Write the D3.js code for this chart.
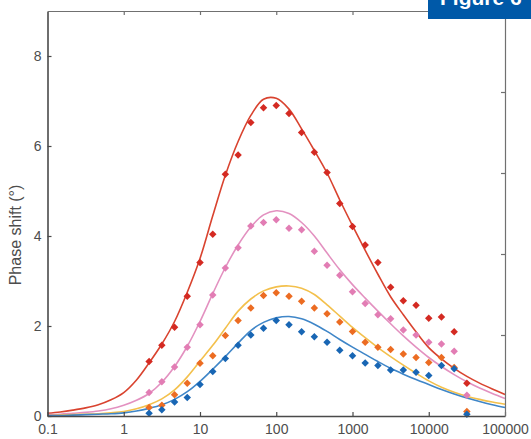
<!DOCTYPE html>
<html>
<head>
<meta charset="utf-8">
<script src="https://cdn.jsdelivr.net/npm/d3@7"></script>
<style>
    body { margin: 0; background: #fff; }
    svg { display: block; font-family: "Liberation Sans", Arial, sans-serif; }
</style>
</head>
<body>
<svg id="chart" width="531" height="439"></svg>
<script>
//Measured frequencies (Hz) for the dots
const freqPoints = [2.15, 3.16, 4.64, 6.81, 10, 14.7, 21.5, 31.6, 46.4, 68.1, 100, 147, 215, 316, 464, 681,
    1000, 1468, 2154, 3162, 4642, 6813, 10000, 14678, 21544, 31623];
//Measured phase shift values (degrees)
const redPoints = [1.21, 1.57, 1.97, 2.66, 3.41, 4.04, 5.37, 5.80, 6.52, 6.85, 6.90, 6.72, 6.30, 5.86, 5.41, 4.72,
    4.21, 3.80, 3.41, 2.86, 2.56, 2.46, 2.17, 2.20, 1.87, 0.73];
const pinkPoints = [0.52, 0.76, 1.09, 1.53, 2.03, 2.69, 3.29, 3.74, 4.22, 4.30, 4.36, 4.17, 4.14, 3.66, 3.35, 3.13,
    2.76, 2.50, 2.25, 2.16, 1.91, 1.80, 1.64, 1.60, 1.44, 0.46];
const orangePoints = [0.19, 0.24, 0.47, 0.73, 1.17, 1.34, 1.79, 2.12, 2.40, 2.68, 2.74, 2.66, 2.55, 2.40, 2.27, 2.09,
    1.88, 1.64, 1.53, 1.48, 1.38, 1.30, 1.19, 1.30, 1.08, 0.10];
const bluePoints = [0.06, 0.14, 0.31, 0.41, 0.70, 0.99, 1.28, 1.57, 1.80, 1.95, 2.12, 2.03, 1.87, 1.76, 1.64, 1.46,
    1.34, 1.18, 1.12, 1.02, 1.02, 0.97, 0.90, 1.12, 1.05, 0.04];

//Frequencies (Hz) where the fitted curves were read
const freqFit = [0.1, 0.147, 0.215, 0.316, 0.464, 0.681, 1, 1.47, 2.15, 3.16, 4.64, 6.81, 10, 14.7, 21.5, 31.6,
    46.4, 68.1, 100, 147, 215, 316, 464, 681, 1000, 1468, 2154, 3162, 4642, 6813, 10000, 14678, 21544, 31623,
    46416, 68129, 100000];
//Fitted curves (degrees)
const redFit = [0.06, 0.09, 0.13, 0.18, 0.25, 0.36, 0.52, 0.8, 1.18, 1.6, 2.1, 2.75, 3.5, 4.45, 5.35, 6.1,
    6.68, 7.04, 7.06, 6.82, 6.38, 5.9, 5.4, 4.8, 4.23, 3.68, 3.15, 2.65, 2.25, 1.87, 1.52, 1.27, 1.06, 0.88,
    0.73, 0.6, 0.48];
const pinkFit = [0.03, 0.04, 0.06, 0.08, 0.11, 0.16, 0.24, 0.35, 0.5, 0.75, 1.1, 1.55, 2.1, 2.72, 3.3, 3.8,
    4.2, 4.47, 4.56, 4.5, 4.3, 4.0, 3.62, 3.25, 2.92, 2.62, 2.33, 2.05, 1.78, 1.53, 1.3, 1.1, 0.92, 0.76,
    0.62, 0.5, 0.39];
const yellowFit = [0.01, 0.02, 0.03, 0.04, 0.05, 0.07, 0.1, 0.16, 0.25, 0.38, 0.58, 0.87, 1.22, 1.57, 1.95, 2.33,
    2.6, 2.78, 2.87, 2.89, 2.84, 2.7, 2.47, 2.22, 1.97, 1.74, 1.52, 1.32, 1.13, 0.95, 0.78, 0.64, 0.53, 0.44,
    0.37, 0.31, 0.26];
const blueFit = [0.01, 0.01, 0.02, 0.03, 0.04, 0.05, 0.07, 0.11, 0.17, 0.25, 0.37, 0.54, 0.77, 1.04, 1.32, 1.62,
    1.9, 2.08, 2.18, 2.21, 2.16, 2.04, 1.88, 1.7, 1.53, 1.37, 1.21, 1.06, 0.93, 0.81, 0.7, 0.59, 0.49, 0.4,
    0.32, 0.25, 0.19];

//Tick labels
const xTicks = [0.1, 1, 10, 100, 1000, 10000, 100000];
const xTickLabels = ["0.1", "1", "10", "100", "1000", "10000", "100000"];
const yTicks = [0, 2, 4, 6, 8];
const rightTicks = [1, 2, 3, 4];

//Series colours: [curve, dots]
const series = [
    { fit: redFit, points: redPoints, line: "#d9432f", dot: "#d42a22" },
    { fit: pinkFit, points: pinkPoints, line: "#e391c0", dot: "#e27db4" },
    { fit: yellowFit, points: orangePoints, line: "#f3c04c", dot: "#ec6c22" },
    { fit: blueFit, points: bluePoints, line: "#3f86c8", dot: "#1866b4" }
];

const chartBox = d3.select("#chart");
const margin = { top: 11, right: 26, bottom: 23, left: 47.5 };
const width = 531, height = 439;

//Scales
const xScale = d3.scaleLog().domain([0.1, 100000]).range([margin.left, width - margin.right]);
const yScale = d3.scaleLinear().domain([0, 9]).range([height - margin.bottom, margin.top]);
const yRight = d3.scaleLinear().domain([0, 5]).range([height - margin.bottom, margin.top]);

//Fitted curves
const line = d3.line()
    .x((d, i) => xScale(freqFit[i]))
    .y(d => yScale(d))
    .curve(d3.curveCatmullRom.alpha(0.5));

chartBox.append("g")
    .selectAll("path")
    .data(series)
    .join("path")
    .attr("d", s => line(s.fit))
    .attr("fill", "none")
    .attr("stroke", s => s.line)
    .attr("stroke-width", 1.6);

//Measured dots
const symbol = d3.symbol().type(d3.symbolSquare).size(28);
series.forEach(s => {
    chartBox.append("g")
        .selectAll("path")
        .data(s.points)
        .join("path")
        .attr("d", symbol)
        .attr("transform", (d, i) => "translate(" + xScale(freqPoints[i]) + "," + yScale(d) + ") rotate(45)")
        .attr("fill", s.dot);
});

//Frame axes
const axisColor = "#4a4a4a";
const xBottom = chartBox.append("g")
    .attr("transform", "translate(0," + (height - margin.bottom) + ")")
    .call(d3.axisBottom(xScale).tickValues(xTicks).tickFormat((d, i) => xTickLabels[i])
        .tickSizeInner(-4).tickSizeOuter(0).tickPadding(8));

const yLeft = chartBox.append("g")
    .attr("transform", "translate(" + margin.left + ",0)")
    .call(d3.axisLeft(yScale).tickValues(yTicks).tickSizeInner(-4).tickSizeOuter(0).tickPadding(6));

const xTop = chartBox.append("g")
    .attr("transform", "translate(0," + margin.top + ")")
    .call(d3.axisTop(xScale).tickValues(xTicks.slice(1, -1)).tickFormat("")
        .tickSizeInner(-4).tickSizeOuter(0));

const yR = chartBox.append("g")
    .attr("transform", "translate(" + (width - margin.right) + ",0)")
    .call(d3.axisRight(yRight).tickValues(rightTicks).tickFormat("")
        .tickSizeInner(-4).tickSizeOuter(0));

[xBottom, yLeft].forEach(g => {
    g.select(".domain").attr("stroke", axisColor).attr("stroke-width", 1.6);
    g.selectAll(".tick line").attr("stroke", axisColor).attr("stroke-width", 1.2);
    g.selectAll("text").attr("fill", "#4d4d4d").attr("font-size", 14);
});
[xTop, yR].forEach(g => {
    g.select(".domain").attr("stroke", "#707070").attr("stroke-width", 1.2);
    g.selectAll(".tick line").attr("stroke", "#707070").attr("stroke-width", 1.2);
});

//Y-axis label
chartBox.append("text")
    .attr("transform", "translate(21," + 235 + ") rotate(-90)")
    .attr("text-anchor", "middle")
    .attr("fill", "#4d4d4d")
    .attr("font-size", 16)
    .text("Phase shift (°)");

//Blue figure tag in the corner, cut by the top edge as in the source
chartBox.append("rect")
    .attr("x", 428).attr("y", 0)
    .attr("width", 103).attr("height", 19)
    .attr("fill", "#0059a8");
chartBox.append("text")
    .attr("x", 440).attr("y", 5)
    .attr("fill", "#fff")
    .attr("font-size", 21)
    .attr("font-weight", "bold")
    .text("Figure 6");
</script>
</body>
</html>
